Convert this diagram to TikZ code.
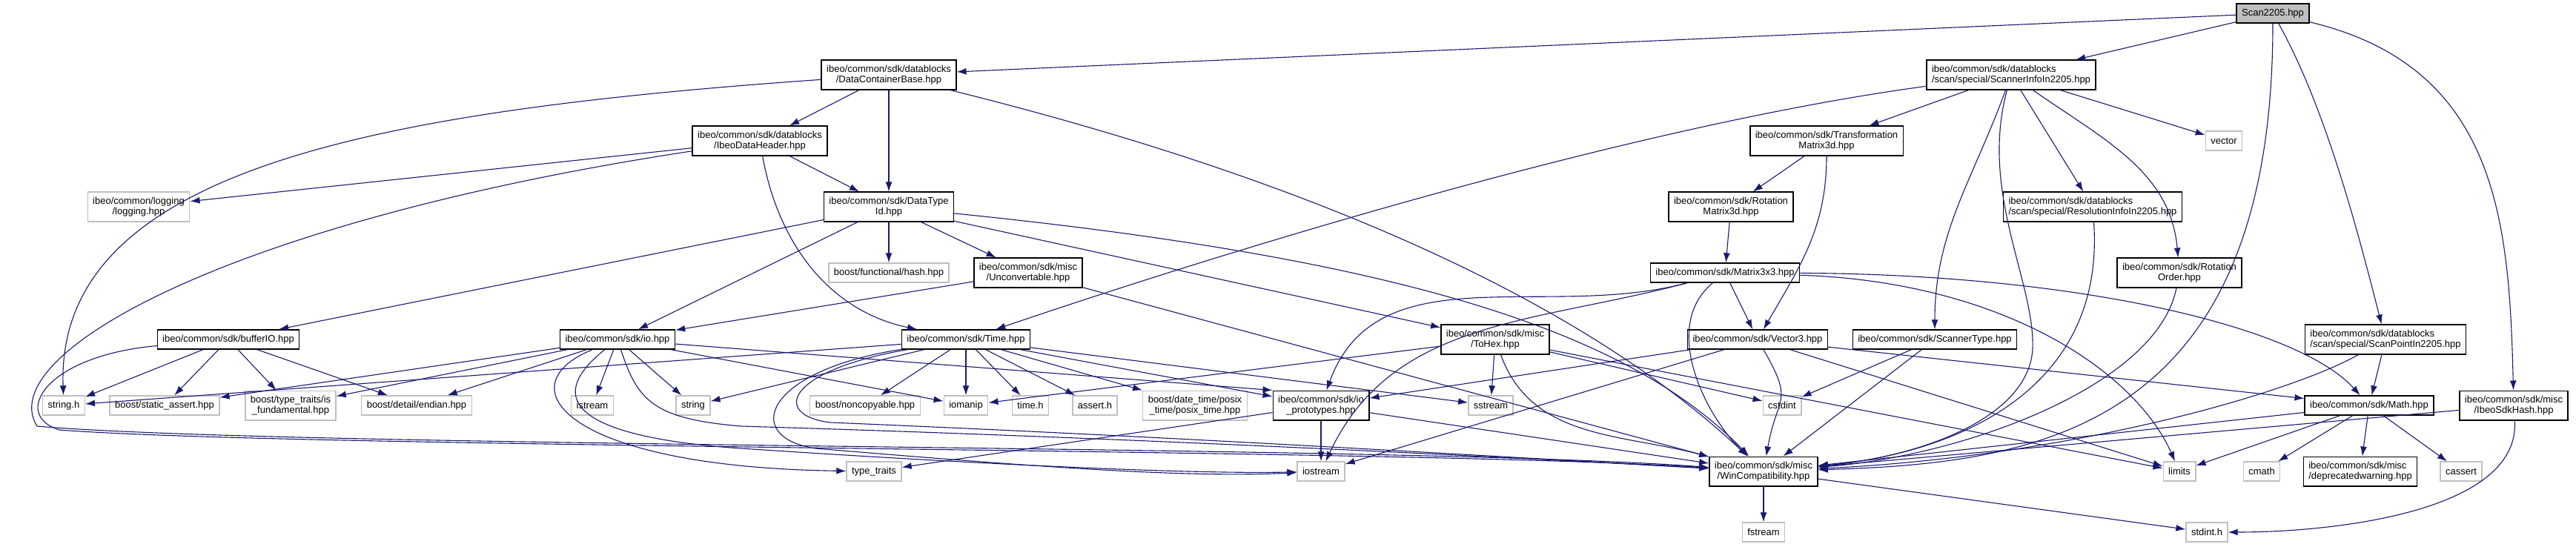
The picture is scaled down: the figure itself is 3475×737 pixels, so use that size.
\documentclass[tikz,border=0pt]{standalone}
\usepackage{fontspec}
\setmainfont{Liberation Sans}
\usepackage{xcolor}
\usepackage{tikz}
\usetikzlibrary{arrows.meta}
\definecolor{edgeblue}{HTML}{191970}
\definecolor{sysgray}{HTML}{BFBFBF}

\begin{document}
\begin{tikzpicture}[x=1pt,y=-1pt,font=\fontsize{13}{14.5}\selectfont,
  incfile/.style={draw=black,line width=1.4pt,fill=white,inner xsep=7pt,inner ysep=6.5pt,minimum height=26pt,align=center},
  sysfile/.style={incfile,draw=sysgray},
  incl/.style={draw=edgeblue,line width=1.1pt,-{Latex[length=13pt,width=9pt]}}]
  \useasboundingbox (0,0) rectangle (3475,737);

  \node[incfile,fill=sysgray] (scan) at (3066,18) {Scan2205.hpp};
  \node[incfile] (dcb) at (1199,101) {ibeo/common/sdk/datablocks\\/DataContainerBase.hpp};
  \node[incfile,align=left] (sinfo) at (2713,101) {ibeo/common/sdk/datablocks\\/scan/special/ScannerInfoIn2205.hpp};
  \node[incfile] (idh) at (1025,190) {ibeo/common/sdk/datablocks\\/IbeoDataHeader.hpp};
  \node[incfile] (tm3d) at (2464,190) {ibeo/common/sdk/Transformation\\Matrix3d.hpp};
  \node[sysfile] (vector) at (3000,190) {vector};
  \node[sysfile] (logging) at (187,279) {ibeo/common/logging\\/logging.hpp};
  \node[incfile] (dtid) at (1199,279) {ibeo/common/sdk/DataType\\Id.hpp};
  \node[incfile] (rm3d) at (2335,279) {ibeo/common/sdk/Rotation\\Matrix3d.hpp};
  \node[incfile,align=left] (resinfo) at (2823,279) {ibeo/common/sdk/datablocks\\/scan/special/ResolutionInfoIn2205.hpp};
  \node[sysfile] (hash) at (1199,368) {boost/functional/hash.hpp};
  \node[incfile] (unconv) at (1387,368) {ibeo/common/sdk/misc\\/Unconvertable.hpp};
  \node[incfile] (m3x3) at (2327,368) {ibeo/common/sdk/Matrix3x3.hpp};
  \node[incfile] (rotorder) at (2940,368) {ibeo/common/sdk/Rotation\\Order.hpp};
  \node[incfile] (bufio) at (308,458) {ibeo/common/sdk/bufferIO.hpp};
  \node[incfile] (io) at (833,458) {ibeo/common/sdk/io.hpp};
  \node[incfile] (time) at (1303,458) {ibeo/common/sdk/Time.hpp};
  \node[incfile] (tohex) at (2017,458) {ibeo/common/sdk/misc\\/ToHex.hpp};
  \node[incfile] (vec3) at (2371,458) {ibeo/common/sdk/Vector3.hpp};
  \node[incfile] (stype) at (2610,458) {ibeo/common/sdk/ScannerType.hpp};
  \node[incfile,align=left] (spoint) at (3218,458) {ibeo/common/sdk/datablocks\\/scan/special/ScanPointIn2205.hpp};
  \node[sysfile] (stringh) at (86,547) {string.h};
  \node[sysfile] (sassert) at (222,547) {boost/static\_assert.hpp};
  \node[sysfile] (isfund) at (392,547) {boost/type\_traits/is\\\_fundamental.hpp};
  \node[sysfile] (endian) at (562,547) {boost/detail/endian.hpp};
  \node[sysfile] (istream) at (799,547) {istream};
  \node[sysfile] (string) at (935,547) {string};
  \node[sysfile] (noncopy) at (1167,547) {boost/noncopyable.hpp};
  \node[sysfile] (iomanip) at (1303,547) {iomanip};
  \node[sysfile] (timeh) at (1390,547) {time.h};
  \node[sysfile] (asserth) at (1477,547) {assert.h};
  \node[sysfile] (posix) at (1612,547) {boost/date\_time/posix\\\_time/posix\_time.hpp};
  \node[incfile] (iproto) at (1782,547) {ibeo/common/sdk/io\\\_prototypes.hpp};
  \node[sysfile] (sstream) at (2011,547) {sstream};
  \node[sysfile] (cstdint) at (2404,547) {cstdint};
  \node[incfile] (math) at (3196,547) {ibeo/common/sdk/Math.hpp};
  \node[incfile] (sdkhash) at (3391,547) {ibeo/common/sdk/misc\\/IbeoSdkHash.hpp};
  \node[sysfile] (typetr) at (1179,636) {type\_traits};
  \node[sysfile] (iostream) at (1782,636) {iostream};
  \node[incfile] (wincomp) at (2379,636) {ibeo/common/sdk/misc\\/WinCompatibility.hpp};
  \node[sysfile] (limits) at (2940,636) {limits};
  \node[sysfile] (cmath) at (3051,636) {cmath};
  \node[incfile,align=left] (deprec) at (3184,636) {ibeo/common/sdk/misc\\/deprecatedwarning.hpp};
  \node[sysfile] (cassert) at (3320,636) {cassert};
  \node[sysfile] (fstream) at (2379,718) {fstream};
  \node[sysfile] (stdinth) at (2977,718) {stdint.h};

  \draw[incl] (scan) -- (dcb);
  \draw[incl] (scan) -- (sinfo);
  \draw[incl] (scan) .. controls (3066,580) and (2750,625) .. (wincomp);
  \draw[incl] (scan) .. controls (3140,150) and (3185,330) .. (spoint);
  \draw[incl] (scan) .. controls (3370,90) and (3385,300) .. (sdkhash);
  \draw[incl] (dcb) -- (idh);
  \draw[incl] (dcb) -- (dtid);
  \draw[incl] (dcb) .. controls (500,150) and (75,230) .. (stringh);
  \draw[incl] (dcb) .. controls (1800,250) and (2150,420) .. (wincomp);
  \draw[incl] (idh) -- (dtid);
  \draw[incl] (idh) -- (logging);
  \draw[incl] (idh) .. controls (1050,330) and (1120,420) .. (time);
  \draw[incl] (idh) .. controls (300,300) and (-10,480) .. (50,575) .. controls (400,605) and (1900,600) .. (wincomp);
  \draw[incl] (dtid) -- (hash);
  \draw[incl] (dtid) -- (unconv);
  \draw[incl] (dtid) -- (bufio);
  \draw[incl] (dtid) -- (io);
  \draw[incl] (dtid) -- (tohex);
  \draw[incl] (dtid) .. controls (1900,350) and (2200,450) .. (wincomp);
  \draw[incl] (unconv) -- (io);
  \draw[incl] (unconv) -- (wincomp);
  \draw[incl] (bufio) -- (stringh);
  \draw[incl] (bufio) -- (sassert);
  \draw[incl] (bufio) -- (isfund);
  \draw[incl] (bufio) -- (endian);
  \draw[incl] (bufio) .. controls (60,480) and (15,560) .. (80,580) .. controls (400,605) and (1900,605) .. (wincomp);
  \draw[incl] (io) -- (sassert);
  \draw[incl] (io) -- (isfund);
  \draw[incl] (io) -- (endian);
  \draw[incl] (io) -- (istream);
  \draw[incl] (io) -- (string);
  \draw[incl] (io) -- (iomanip);
  \draw[incl] (io) -- (iproto.north west);
  \draw[incl] (io) .. controls (680,520) and (760,630) .. (typetr);
  \draw[incl] (io) .. controls (730,540) and (780,590) .. (1000,605) .. controls (1300,625) and (1600,640) .. (iostream);
  \draw[incl] (io) .. controls (860,540) and (880,565) .. (1000,575) .. controls (1500,590) and (2000,615) .. (wincomp);
  \draw[incl] (time) -- (stringh);
  \draw[incl] (time) -- (string);
  \draw[incl] (time) -- (noncopy);
  \draw[incl] (time) -- (iomanip);
  \draw[incl] (time) -- (timeh);
  \draw[incl] (time) -- (asserth);
  \draw[incl] (time) -- (posix);
  \draw[incl] (time) -- (iproto);
  \draw[incl] (time) -- (sstream);
  \draw[incl] (time) .. controls (1030,500) and (1000,590) .. (1100,605) .. controls (1400,630) and (1600,645) .. (iostream);
  \draw[incl] (time) .. controls (1060,500) and (1040,560) .. (1120,570) .. controls (1600,590) and (2000,615) .. (wincomp);
  \draw[incl] (iproto) -- (typetr);
  \draw[incl] (iproto) -- (iostream);
  \draw[incl] (iproto) -- (wincomp);
  \draw[incl] (tohex) -- (iomanip);
  \draw[incl] (tohex) -- (sstream);
  \draw[incl] (tohex) -- (cstdint);
  \draw[incl] (tohex) -- (limits);
  \draw[incl] (tohex) to[out=-70,in=165] (wincomp);
  \draw[incl] (vec3) -- (iproto);
  \draw[incl] (vec3) -- (iostream);
  \draw[incl] (vec3) -- (limits);
  \draw[incl] (vec3) -- (math);
  \draw[incl] (vec3) to[out=-60,in=80,looseness=1.5] (wincomp);
  \draw[incl] (m3x3) -- (vec3);
  \draw[incl] (m3x3) to[out=195,in=70] (iproto);
  \draw[incl] (m3x3) to[out=195,in=65] (iostream);
  \draw[incl] (m3x3) .. controls (2240,440) and (2300,560) .. (wincomp);
  \draw[incl] (m3x3) .. controls (2800,370) and (3100,440) .. (math);
  \draw[incl] (m3x3) .. controls (2700,380) and (2880,500) .. (limits);
  \draw[incl] (tm3d) -- (rm3d);
  \draw[incl] (tm3d) to[out=-90,in=60] (vec3);
  \draw[incl] (rm3d) -- (m3x3);
  \draw[incl] (sinfo) -- (tm3d);
  \draw[incl] (sinfo) -- (vector);
  \draw[incl] (sinfo) -- (resinfo);
  \draw[incl] (sinfo) to[out=-35,in=95] (rotorder);
  \draw[incl] (sinfo) to[out=-110,in=90] (stype);
  \draw[incl] (sinfo) .. controls (2670,260) and (2745,380) .. (2742,470) .. controls (2738,560) and (2600,615) .. (wincomp);
  \draw[incl] (sinfo) .. controls (2200,170) and (1650,340) .. (time);
  \draw[incl] (resinfo) .. controls (2840,520) and (2650,610) .. (wincomp);
  \draw[incl] (rotorder) .. controls (2910,520) and (2650,615) .. (wincomp);
  \draw[incl] (stype) -- (cstdint);
  \draw[incl] (stype) -- (wincomp);
  \draw[incl] (spoint) -- (math);
  \draw[incl] (spoint) .. controls (3090,530) and (2800,615) .. (wincomp);
  \draw[incl] (math) -- (wincomp);
  \draw[incl] (math) -- (limits);
  \draw[incl] (math) -- (cmath);
  \draw[incl] (math) -- (deprec);
  \draw[incl] (math) -- (cassert);
  \draw[incl] (sdkhash) -- (wincomp);
  \draw[incl] (sdkhash) .. controls (3400,690) and (3150,718) .. (stdinth);
  \draw[incl] (wincomp) -- (fstream);
  \draw[incl] (wincomp) -- (stdinth);
\end{tikzpicture}
\end{document}
